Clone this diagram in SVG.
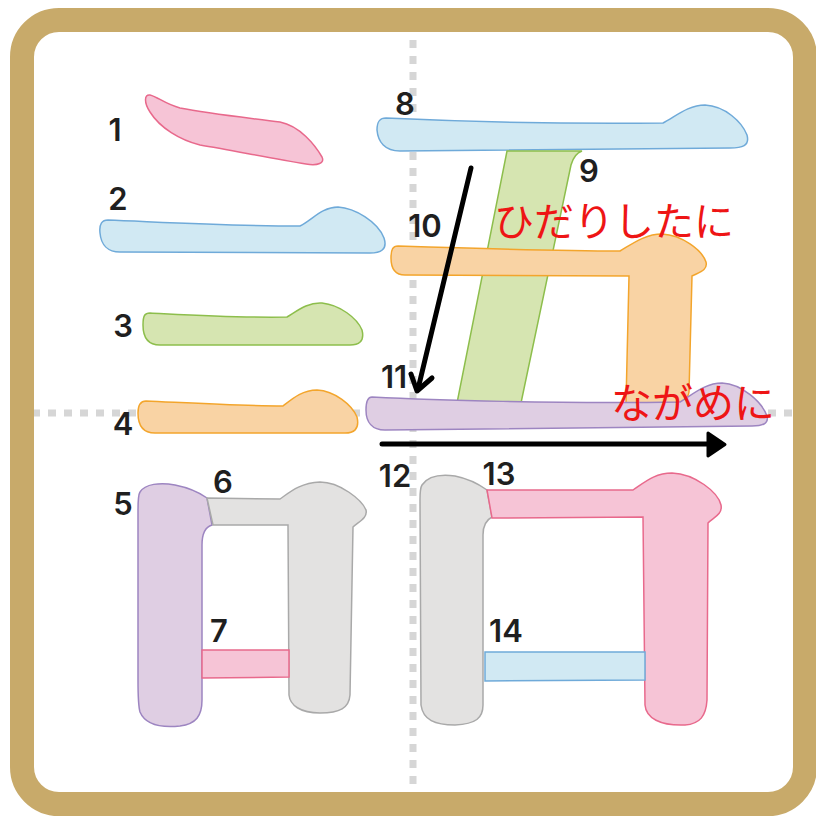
<svg xmlns="http://www.w3.org/2000/svg" width="816" height="816" viewBox="0 0 816 816">
<defs>
<style>
.pink{fill:#f6c4d6;stroke:#e8698c;stroke-width:1.5}
.blue{fill:#d1e9f3;stroke:#6faad9;stroke-width:1.5}
.green{fill:#d6e5b1;stroke:#8dbe4c;stroke-width:1.5}
.orange{fill:#f9d3a4;stroke:#f3a52c;stroke-width:1.5}
.purple{fill:#dfcee3;stroke:#9d85c1;stroke-width:1.5}
.gray{fill:#e3e2e1;stroke:#a9a9a9;stroke-width:1.5}
.num{font-family:Inter,"Liberation Sans",sans-serif;font-weight:600;font-size:31px;fill:#1f1f1f;text-anchor:middle}
.jp{font-family:"Noto Sans CJK JP",sans-serif;font-size:41px;fill:#ee1515;font-weight:400}
.guide{stroke:#d6d6d6;stroke-width:7;stroke-dasharray:8 8;fill:none}
.arrow{stroke:#000;stroke-width:5;fill:none;stroke-linecap:round;stroke-linejoin:round}
</style>
</defs>
<rect x="0" y="0" width="816" height="816" fill="#ffffff"/>
<g id="guides">
<line class="guide" x1="413" y1="40" x2="413" y2="792"/>
<line class="guide" x1="32" y1="413" x2="793" y2="413"/>
</g>
<g id="frame">
<rect x="22" y="20" width="783" height="784" rx="37" ry="37" fill="none" stroke="#c8aa6a" stroke-width="24"/>
</g>
<g id="stroke1">
<path class="pink" d="M150,95 C158,97 165,104 180,108 C210,114 250,118 280,122 C300,126 315,145 322,157 C325,163 318,166 306,164 C270,158 230,150 200,145 C180,140 160,128 150,112 C144,103 144,94 150,95 Z"/>
<text class="num" x="115" y="141">1</text>
</g>
<g id="stroke2">
<path class="blue" d="M108,220 C160,222 230,226 300,226 C312,220 322,207 338,207 C355,208 378,222 384,238 C388,250 380,253 370,253 L120,252 C108,252 101,245 100,233 C99,224 102,220 108,220 Z"/>
<text class="num" x="118" y="210">2</text>
</g>
<g id="stroke3">
<path class="green" d="M150,313 C190,315 240,318 287,317 C297,311 308,302 322,303 C340,305 357,318 362,330 C365,342 358,345 350,345 L160,345 C148,345 143,338 143,325 C143,315 145,313 150,313 Z"/>
<text class="num" x="123" y="337">3</text>
</g>
<g id="stroke4">
<path class="orange" d="M146,401 C190,403 240,406 283,406 C292,399 302,390 317,390 C335,391 352,405 357,417 C360,430 353,433 345,433 L155,433 C143,433 138,425 138,413 C138,404 141,401 146,401 Z"/>
<text class="num" x="123" y="435">4</text>
</g>
<g id="stroke5">
<path class="purple" d="M140,492 C145,484 160,482 175,485 C190,488 200,493 207,498 L212,525 C205,527 202,533 202,545 L202,700 C202,716 196,724 180,726 C160,728 145,724 140,712 C138,705 138,690 138,680 L138,510 C138,500 138,495 140,492 Z"/>
<text class="num" x="123" y="515">5</text>
</g>
<g id="stroke6">
<path class="gray" d="M207,498 L280,499 C290,492 300,483 320,482 C340,482 362,500 366,510 C368,518 358,522 353,527 L350,695 C349,708 340,713 320,713 C300,713 290,705 289,695 L288,525 L213,525 Z"/>
<text class="num" x="223" y="493">6</text>
</g>
<g id="stroke7">
<path class="pink" d="M202,650 L289,650 L289,677 L202,678 Z"/>
<text class="num" x="219" y="642">7</text>
</g>
<g id="stroke8">
<path class="blue" d="M386,118 C450,121 560,124 663,123 C675,117 688,105 705,105 C725,106 742,122 747,135 C750,146 742,148 730,148 L400,151 C385,151 378,142 377,130 C377,121 380,118 386,118 Z"/>
<text class="num" x="405" y="115">8</text>
</g>
<g id="stroke9">
<path class="green" d="M507,151 L582,151 C576,153 573,158 571,165 L521,403 L457,403 Z"/>
<text class="num" x="589" y="182">9</text>
</g>
<g id="stroke10">
<path class="orange" d="M398,246 C460,248 560,251 620,251 C632,244 645,234 662,234 C682,235 702,250 706,262 C708,270 700,272 692,276 L689,392 C688,400 680,403 670,403 L626,403 L629,276 L405,275 C395,275 391,268 391,258 C391,249 393,246 398,246 Z"/>
<text class="num" x="425" y="237">10</text>
</g>
<g id="stroke11">
<path class="purple" d="M372,397 C430,400 560,404 680,402 C692,395 705,383 722,383 C742,384 762,402 767,416 C769,424 762,426 752,426 L385,430 C372,430 366,422 366,410 C366,400 368,397 372,397 Z"/>
<text class="num" x="394" y="388">11</text>
</g>
<g id="stroke12">
<path class="gray" d="M422,485 C428,476 440,474 455,476 C470,479 480,485 487,490 L492,517 C486,520 483,525 483,535 L483,705 C483,718 476,724 455,725 C435,725 423,720 421,705 L420,500 C420,492 420,488 422,485 Z"/>
<text class="num" x="395" y="487">12</text>
</g>
<g id="stroke13">
<path class="pink" d="M487,490 L633,490 C645,482 655,473 672,473 C695,474 718,492 721,505 C723,515 712,518 708,523 L707,700 C706,716 700,724 685,725 C660,726 646,718 645,705 L643,517 L492,518 Z"/>
<text class="num" x="499" y="485">13</text>
</g>
<g id="stroke14">
<path class="blue" d="M485,652 L645,652 L645,680 L485,681 Z"/>
<text class="num" x="506" y="642">14</text>
</g>
<g id="connectors">
<line class="arrow" x1="471" y1="168" x2="418" y2="389"/>
<polyline class="arrow" points="411,374 417,391 432,378"/>
<line class="arrow" x1="382" y1="444" x2="712" y2="444"/>
<path d="M708,433 L725,444.5 L708,456 Z" fill="#000" stroke="#000" stroke-width="3" stroke-linejoin="round"/>
</g>
<g id="labels">
<text class="jp" x="494" y="236" style="font-size:40px">ひだりしたに</text>
<text class="jp" x="611" y="418">ながめに</text>
</g>
</svg>
